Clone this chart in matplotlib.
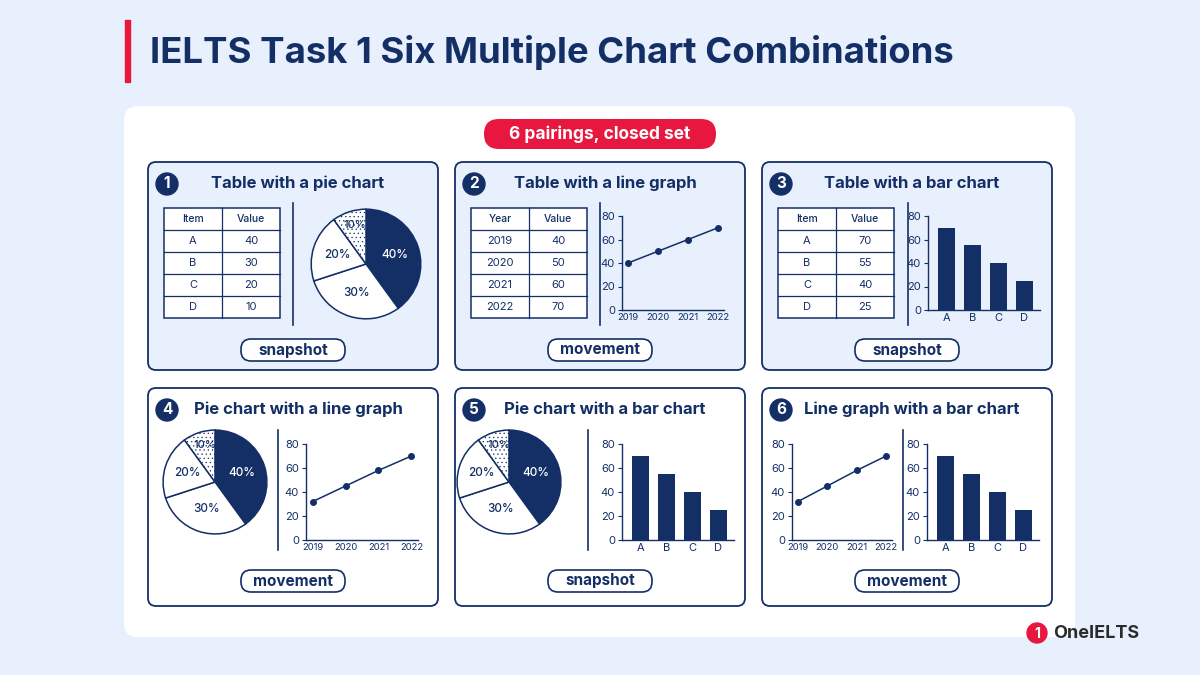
import matplotlib
matplotlib.use("Agg")
import matplotlib.pyplot as plt
from matplotlib.patches import FancyBboxPatch, Circle, Rectangle

plt.rcParams['font.family'] = ['Inter', 'DejaVu Sans']
plt.rcParams['hatch.linewidth'] = 0.4

NAVY = "#142f66"
RED = "#e8173f"
BG = "#e7f0fc"

# ---- data ----
title = "IELTS Task 1 Six Multiple Chart Combinations"
badge = "6 pairings, closed set"
card_titles = ["Table with a pie chart", "Table with a line graph", "Table with a bar chart",
               "Pie chart with a line graph", "Pie chart with a bar chart", "Line graph with a bar chart"]
card_tags = ["snapshot", "movement", "snapshot", "movement", "snapshot", "movement"]
pie_labels = ["40%", "30%", "20%", "10%"]
pie_values = [40, 30, 20, 10]
pie_items = ["A", "B", "C", "D"]
years = ["2019", "2020", "2021", "2022"]
line_values = [40, 50, 60, 70]
line_values_2 = [32, 45, 58, 70]
bar_cats = ["A", "B", "C", "D"]
bar_values = [70, 55, 40, 25]

W, H = 1200, 675
fig = plt.figure(figsize=(12, 6.75), dpi=100, facecolor=BG)
bg = fig.add_axes([0, 0, 1, 1])
bg.set_xlim(0, W)
bg.set_ylim(H, 0)
bg.axis("off")


def sub_axes(x, y, w, h):
    return fig.add_axes([x / W, 1 - (y + h) / H, w / W, h / H])


def rbox(x, y, w, h, fc, ec, lw=1.2, r=8):
    bg.add_patch(FancyBboxPatch((x, y), w, h, boxstyle=f"round,pad=0,rounding_size={r}",
                                fc=fc, ec=ec, lw=lw))


# title
bg.add_patch(Rectangle((125, 20), 5, 62, color=RED))
bg.text(150, 52, title, fontsize=26.3, fontweight="bold", color=NAVY, va="center")

# white panel
rbox(124, 106, 951, 531, "white", "none", r=14)
rbox(484, 119, 232, 30, RED, "none", r=15)
bg.text(600, 134, badge, fontsize=12.5, fontweight="bold", color="white", ha="center", va="center")


def table(x, y, header, rows):
    cw, rh = 58, 22
    bg.add_patch(Rectangle((x, y), 2 * cw, rh * (len(rows) + 1), fc="white", ec=NAVY, lw=1.1))
    for i in range(1, len(rows) + 1):
        bg.plot([x, x + 2 * cw], [y + i * rh] * 2, color=NAVY, lw=0.9)
    bg.plot([x + cw, x + cw], [y, y + rh * (len(rows) + 1)], color=NAVY, lw=0.9)
    for j, row in enumerate([header] + rows):
        for k, val in enumerate(row):
            bg.text(x + cw * k + cw / 2, y + j * rh + rh / 2, val, ha="center", va="center",
                    fontsize=7.5 if j == 0 else 8, color=NAVY, fontweight="medium" if j == 0 else "normal")


def pie(cx, cy, r):
    ax = sub_axes(cx - r - 2, cy - r - 2, 2 * r + 4, 2 * r + 4)
    wedges, texts = ax.pie(pie_values, startangle=90, counterclock=False,
                           colors=[NAVY, "white", "white", "white"],
                           wedgeprops=dict(ec=NAVY, lw=1.1), labels=pie_labels,
                           labeldistance=0.55, textprops=dict(fontsize=8.5, color=NAVY, fontweight="medium"))
    wedges[3].set_hatch("....")
    for t in texts:
        t.set_ha("center")
        t.set_va("center")
    texts[0].set_color("white")
    texts[3].set_position((-0.2, 0.72))
    texts[3].set_fontsize(8)
    ax.set_xlim(-1.04, 1.04)
    ax.set_ylim(-1.04, 1.04)
    ax.set_aspect("equal")


def style_axes(ax):
    ax.set_facecolor("none")
    for s in ["top", "right"]:
        ax.spines[s].set_visible(False)
    for s in ["left", "bottom"]:
        ax.spines[s].set_color(NAVY)
        ax.spines[s].set_linewidth(1.0)
    ax.set_ylim(0, 80)
    ax.set_yticks([0, 20, 40, 60, 80])
    ax.tick_params(colors=NAVY, labelsize=8, length=3, width=0.8, pad=2)


def line(x, y, w, h, vals):
    ax = sub_axes(x, y, w, h)
    ax.plot(years, vals, color=NAVY, lw=1.1, marker="o", ms=4)
    ax.set_xlim(-0.2, 3.2)
    style_axes(ax)
    ax.tick_params(axis="x", labelsize=6.8, length=0)


def bars(x, y, w, h):
    ax = sub_axes(x, y, w, h)
    ax.bar(bar_cats, bar_values, color=NAVY, width=0.65)
    ax.set_xlim(-0.7, 3.6)
    style_axes(ax)
    ax.tick_params(axis="x", length=0)


cards = [(148, 162), (455, 162), (762, 162), (148, 388), (455, 388), (762, 388)]
for i, (x, y) in enumerate(cards):
    cw, ch = 290, 208 if i < 3 else 218
    rbox(x, y, cw, ch, BG if i < 3 else "white", NAVY, lw=1.3)
    bg.add_patch(Circle((x + 19, y + 22), 11, color=NAVY))
    bg.text(x + 19, y + 22, str(i + 1), color="white", fontsize=11, fontweight="bold",
            ha="center", va="center")
    bg.text(x + cw / 2 + 5, y + 21, card_titles[i], fontsize=12, fontweight="bold",
            color=NAVY, ha="center", va="center")
    py = y + 188 if i < 3 else y + 193
    rbox(x + cw / 2 - 52, py - 11, 104, 22, "white", NAVY, lw=1.2, r=10)
    bg.text(x + cw / 2, py, card_tags[i], fontsize=11, fontweight="bold", color=NAVY,
            ha="center", va="center")

# dividers
for dx, y0, y1 in [(293, 203, 325), (600, 203, 325), (908, 203, 325),
                   (278, 430, 550), (588, 430, 550), (903, 430, 550)]:
    bg.plot([dx, dx], [y0, y1], color=NAVY, lw=1.2)

item_rows = [[a, str(v)] for a, v in zip(pie_items, pie_values)]
table(164, 208, ["Item", "Value"], item_rows)
pie(366, 264, 55)

table(471, 208, ["Year", "Value"], [[a, str(v)] for a, v in zip(years, line_values)])
line(622, 216, 102, 94, line_values)

table(778, 208, ["Item", "Value"], [[a, str(v)] for a, v in zip(bar_cats, bar_values)])
bars(928, 216, 112, 94)

pie(215, 482, 52)
line(306, 444, 112, 96, line_values_2)

pie(509, 482, 52)
bars(622, 444, 112, 96)

line(792, 444, 100, 96, line_values_2)
bars(927, 444, 112, 96)

# logo
bg.add_patch(Circle((1037, 633), 10, color=RED))
bg.text(1037, 634, "1", color="white", fontsize=10, fontweight="bold", ha="center", va="center")
bg.text(1053, 633, "OneIELTS", fontsize=13, fontweight="bold", color="#2b2b2b", va="center")

fig.savefig("out.png", dpi=100, facecolor=BG)
